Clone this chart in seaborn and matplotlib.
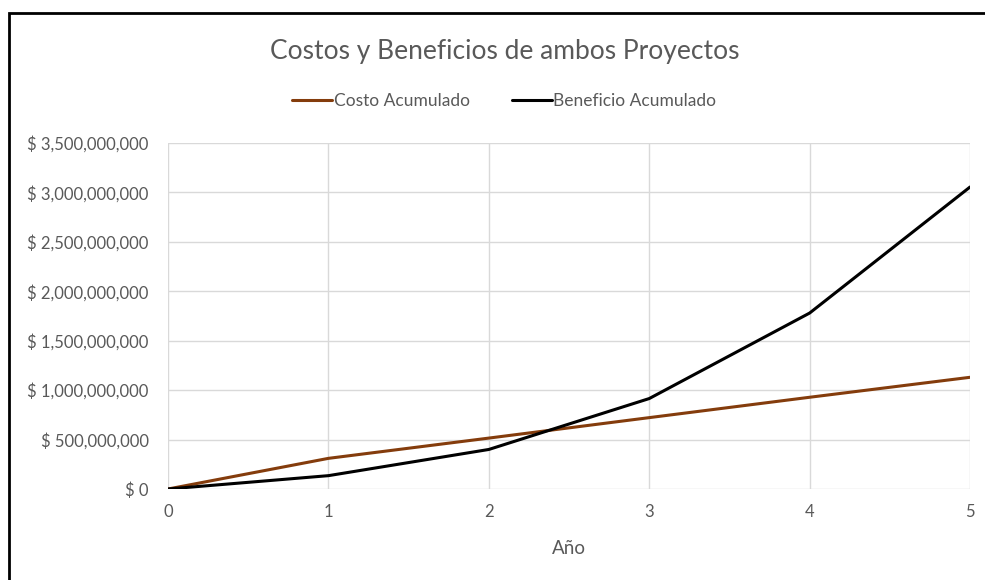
import matplotlib
matplotlib.use("Agg")
import matplotlib.pyplot as plt
import matplotlib.ticker as mticker
from matplotlib.patches import Rectangle
import pandas as pd
import seaborn as sns

years = [0, 1, 2, 3, 4, 5]
costo_acumulado = [0, 310e6, 515e6, 722e6, 928e6, 1130e6]
beneficio_acumulado = [0, 135e6, 400e6, 915e6, 1780e6, 3055e6]
series_names = ["Costo Acumulado", "Beneficio Acumulado"]
series_colors = ["#843C0C", "#000000"]

df = pd.DataFrame({
    "Año": years * 2,
    "valor": costo_acumulado + beneficio_acumulado,
    "serie": [series_names[0]] * len(years) + [series_names[1]] * len(years),
})

sns.set_theme(style="whitegrid")
plt.rcParams["font.family"] = ["Lato", "DejaVu Sans"]

fig = plt.figure(figsize=(9.85, 5.8), dpi=100)
ax = fig.add_axes([0.1706, 0.1569, 0.8142, 0.5965])

sns.lineplot(data=df, x="Año", y="valor", hue="serie", hue_order=series_names,
             palette=series_colors, linewidth=2.2, ax=ax, legend=False)

ax.set_xlim(0, 5)
ax.set_ylim(0, 3.5e9)
ax.set_xticks(years)
ax.yaxis.set_major_locator(mticker.MultipleLocator(5e8))
ax.yaxis.set_major_formatter(mticker.FuncFormatter(lambda v, p: f"$ {v:,.0f}"))
ax.grid(True, color="#d9d9d9", linewidth=1)
for s in ax.spines.values():
    s.set_visible(False)
ax.tick_params(axis="both", colors="#595959", labelsize=12, length=0)
ax.tick_params(axis="y", pad=14)
ax.tick_params(axis="x", pad=11)
ax.set_xlabel("Año", color="#595959", fontsize=13.5, labelpad=14)
ax.set_ylabel("")

fig.text(0.512, 0.912, "Costos y Beneficios de ambos Proyectos", ha="center", va="center",
         fontsize=19, color="#595959")

handles = [plt.Line2D([0], [0], color=c, linewidth=2.2) for c in series_colors]
fig.legend(handles, series_names, loc="center", bbox_to_anchor=(0.512, 0.826), ncol=2,
           frameon=False, fontsize=12.5, handlelength=2.3, handletextpad=0.1,
           columnspacing=2.4, labelcolor="#595959")

fig.patches.append(Rectangle((0.009, -0.01), 1.1, 0.988, transform=fig.transFigure,
                             fill=False, edgecolor="black", linewidth=2))

fig.savefig("out.png", dpi=100)
